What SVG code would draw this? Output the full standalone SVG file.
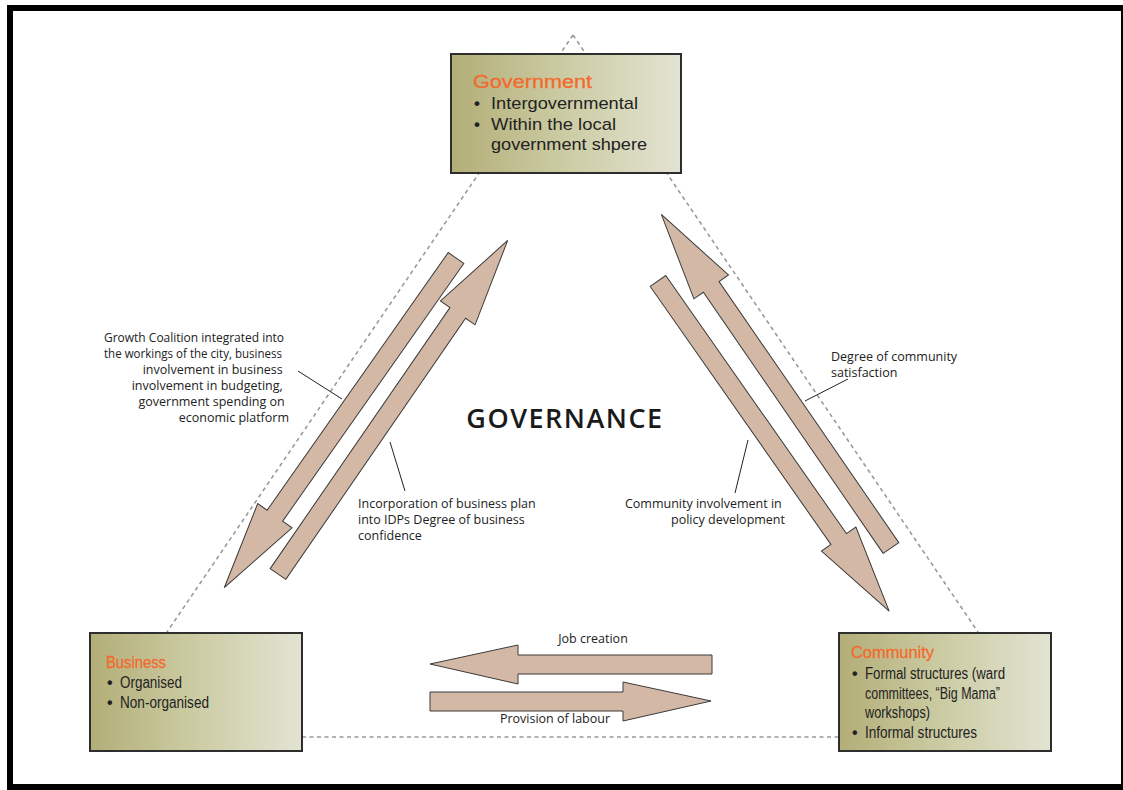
<svg xmlns="http://www.w3.org/2000/svg" width="1123" height="790" viewBox="0 0 1123 790">
<defs>
<linearGradient id="boxg" x1="0" y1="0" x2="1" y2="0">
<stop offset="0" stop-color="#b3ae78"/>
<stop offset="0.5" stop-color="#cccca4"/>
<stop offset="1" stop-color="#e3e3d3"/>
</linearGradient>
<style>
.frame{fill:none;stroke:#000;stroke-width:6}
.box{fill:url(#boxg);stroke:#2e2e2e;stroke-width:2}
.dash{fill:none;stroke:#9a9a9a;stroke-width:1.6;stroke-dasharray:4 3.5}
.arr{fill:#d3b8a6;stroke:#3a3a3a;stroke-width:1}
.lead{stroke:#222;stroke-width:1;fill:none}
.tn{font-family:"Liberation Sans",sans-serif;fill:#222}
.head{fill:#f26a2e;stroke:#f26a2e;stroke-width:0.3}
.bul{font-weight:bold}
.lbl{font-family:"Open Sans","Noto Sans",sans-serif;font-size:12.5px;fill:#222}
</style>
</defs>
<rect width="1123" height="790" fill="#fff"/>
<rect class="frame" x="10" y="8" width="1114" height="779"/>

<g id="connectors">
<path class="dash" d="M573,35 L167,632"/>
<path class="dash" d="M573,35 L978,632"/>
<path class="dash" d="M302,737 L839,737"/>
<polygon class="arr" transform="translate(456,258) rotate(125.1)" points="0,-9.5 315,-9.5 315,-21 403,0 315,21 315,9.5 0,9.5"/>
<polygon class="arr" transform="translate(278,574) rotate(-55.45)" points="0,-9.5 317,-9.5 317,-21 405,0 317,21 317,9.5 0,9.5"/>
<polygon class="arr" transform="translate(891,548) rotate(-124.55)" points="0,-9.5 317,-9.5 317,-21 405,0 317,21 317,9.5 0,9.5"/>
<polygon class="arr" transform="translate(658,281) rotate(55)" points="0,-9.5 315,-9.5 315,-21 403,0 315,21 315,9.5 0,9.5"/>
<polygon class="arr" points="712,655 518,655 518,645 430,664 518,684 518,674 712,674"/>
<polygon class="arr" points="430,692 623,692 623,682 711,701 623,721 623,711 430,711"/>
<path class="lead" d="M298,371 L342,399"/>
<path class="lead" d="M390,442 L405,491"/>
<path class="lead" d="M805,401 L848,379"/>
<path class="lead" d="M748,440 L735,493"/>
<text class="lbl" x="593" y="643" text-anchor="middle">Job creation</text>
<text class="lbl" x="555" y="723" text-anchor="middle">Provision of labour</text>
<text class="lbl">
<tspan x="104" y="342" textLength="180" lengthAdjust="spacingAndGlyphs">Growth Coalition integrated into</tspan>
<tspan x="104" y="358" textLength="178" lengthAdjust="spacingAndGlyphs">the workings of the city, business</tspan>
</text>
<text class="lbl" text-anchor="end">
<tspan x="286" y="374">involvement in business</tspan>
<tspan x="286" y="390">involvement in budgeting,</tspan>
<tspan x="288" y="406">government spending on</tspan>
<tspan x="289" y="422">economic platform</tspan>
</text>
<text class="lbl">
<tspan x="358" y="508">Incorporation of business plan</tspan>
<tspan x="358" y="524">into IDPs Degree of business</tspan>
<tspan x="358" y="540">confidence</tspan>
</text>
<text class="lbl">
<tspan x="831" y="361">Degree of community</tspan>
<tspan x="831" y="377">satisfaction</tspan>
</text>
<text class="lbl" text-anchor="end">
<tspan x="785" y="508">Community involvement in</tspan>
<tspan x="785" y="524">policy development</tspan>
</text>
</g>

<text x="565" y="428" text-anchor="middle" font-family="'Open Sans','Noto Sans',sans-serif" font-size="27" font-weight="600" letter-spacing="1.5" fill="#1a1a1a">GOVERNANCE</text>

<g id="government">
<rect class="box" x="451" y="54" width="230" height="119"/>
<text class="tn head" x="473" y="88" font-size="18" textLength="119" lengthAdjust="spacingAndGlyphs">Government</text>
<text class="tn" font-size="17">
<tspan class="bul" x="474" y="109">•</tspan><tspan x="491" y="109" textLength="147" lengthAdjust="spacingAndGlyphs">Intergovernmental</tspan>
<tspan class="bul" x="474" y="130">•</tspan><tspan x="491" y="130" textLength="125" lengthAdjust="spacingAndGlyphs">Within the local</tspan>
<tspan x="491" y="150" textLength="156" lengthAdjust="spacingAndGlyphs">government shpere</tspan>
</text>
</g>

<g id="business">
<rect class="box" x="90" y="633" width="212" height="118"/>
<text class="tn head" x="106" y="668" font-size="17" textLength="60" lengthAdjust="spacingAndGlyphs">Business</text>
<text class="tn" font-size="16">
<tspan class="bul" x="107" y="688">•</tspan><tspan x="120" y="688" textLength="62" lengthAdjust="spacingAndGlyphs">Organised</tspan>
<tspan class="bul" x="107" y="708">•</tspan><tspan x="120" y="708" textLength="89" lengthAdjust="spacingAndGlyphs">Non-organised</tspan>
</text>
</g>

<g id="community">
<rect class="box" x="839" y="633" width="212" height="118"/>
<text class="tn head" x="851" y="658" font-size="17" textLength="83" lengthAdjust="spacingAndGlyphs">Community</text>
<text class="tn" font-size="16">
<tspan class="bul" x="852" y="679">•</tspan><tspan x="865" y="679" textLength="140" lengthAdjust="spacingAndGlyphs">Formal structures (ward</tspan>
<tspan x="865" y="699" textLength="135" lengthAdjust="spacingAndGlyphs">committees, “Big Mama”</tspan>
<tspan x="865" y="718" textLength="65" lengthAdjust="spacingAndGlyphs">workshops)</tspan>
<tspan class="bul" x="852" y="738">•</tspan><tspan x="865" y="738" textLength="112" lengthAdjust="spacingAndGlyphs">Informal structures</tspan>
</text>
</g>
</svg>
